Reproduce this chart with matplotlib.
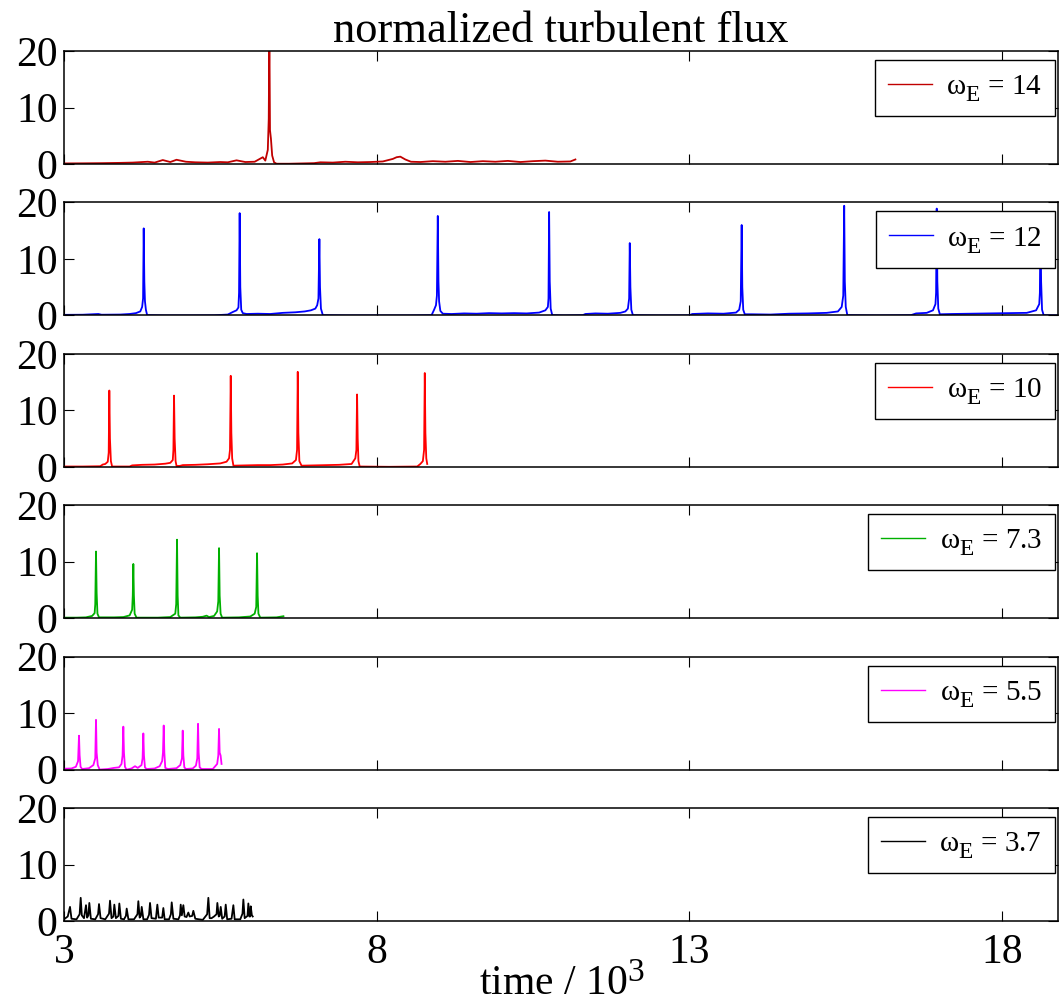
import numpy as np
import matplotlib
matplotlib.use("Agg")
import matplotlib.pyplot as plt

plt.rcParams['font.family'] = ['Liberation Serif', 'DejaVu Serif']
plt.rcParams['mathtext.fontset'] = 'custom'
plt.rcParams['mathtext.rm'] = 'Liberation Serif'
plt.rcParams['mathtext.it'] = 'Liberation Serif'
plt.rcParams['mathtext.bf'] = 'Liberation Serif:bold'
try:
    import matplotlib._mathtext as _mt
    _mt.SHRINK_FACTOR = 0.8
    _mt.FontConstantsBase.sub1 = 0.5
except Exception:
    pass

# ---------------- data (time / 10^3, normalized flux) ----------------
omega_labels = ['14', '12', '10', '7.3', '5.5', '3.7']
colors = ['#C00000', '#0000FF', '#FF0000', '#00B000', '#FF00FF', '#000000']

flux_w14 = [(3.00, 0.10), (3.30, 0.12), (3.60, 0.15), (3.90, 0.20), (4.10, 0.25), (4.34, 0.40),
            (4.45, 0.25), (4.58, 0.70), (4.70, 0.35), (4.80, 0.75), (4.95, 0.40), (5.10, 0.30),
            (5.30, 0.25), (5.50, 0.35), (5.62, 0.30), (5.76, 0.65), (5.90, 0.35), (6.05, 0.40),
            (6.18, 1.20), (6.22, 0.60), (6.26, 2.50), (6.275, 8.00), (6.285, 24.0), (6.295, 6.00),
            (6.31, 4.50), (6.33, 1.50), (6.36, 0.30), (6.40, 0.05), (6.60, 0.05), (6.80, 0.10),
            (7.00, 0.15), (7.10, 0.30), (7.30, 0.25), (7.50, 0.40), (7.70, 0.30), (7.90, 0.35),
            (8.10, 0.45), (8.26, 0.90), (8.32, 1.20), (8.38, 1.30), (8.46, 0.80), (8.55, 0.40),
            (8.70, 0.35), (8.90, 0.50), (9.10, 0.40), (9.30, 0.55), (9.50, 0.35), (9.70, 0.50),
            (9.90, 0.40), (10.10, 0.55), (10.30, 0.35), (10.50, 0.50), (10.70, 0.60), (10.90, 0.40),
            (11.10, 0.45), (11.18, 0.80)]

flux_w12 = [(3.00, 0.10), (3.30, 0.12), (3.55, 0.25), (3.60, 0.12), (3.90, 0.15), (4.05, 0.25),
            (4.15, 0.40), (4.22, 0.70), (4.25, 1.5), (4.265, 3.0), (4.275, 15.4), (4.285, 6.0),
            (4.295, 2.5), (4.31, 1.0), (4.33, 0.05), (4.60, 0.0), (5.00, 0.0), (5.40, 0.02),
            (5.62, 0.15), (5.70, 0.60), (5.76, 0.9), (5.79, 1.4), (5.80, 4.0), (5.81, 18.1),
            (5.82, 5.0), (5.835, 1.0), (5.86, 0.4), (5.92, 0.25), (6.10, 0.30), (6.30, 0.25),
            (6.50, 0.45), (6.70, 0.55), (6.85, 0.7), (6.95, 0.9), (7.02, 1.2), (7.05, 1.8),
            (7.07, 3.0), (7.085, 13.5), (7.095, 5.0), (7.11, 1.2), (7.14, 0.05), (7.50, 0.0),
            (8.00, 0.0), (8.50, 0.0), (8.88, 0.05), (8.92, 1.0), (8.95, 1.8), (8.965, 3.5),
            (8.979, 17.6), (8.99, 6.0), (9.00, 2.5), (9.02, 0.8), (9.06, 0.3), (9.20, 0.25),
            (9.40, 0.35), (9.60, 0.30), (9.80, 0.40), (10.00, 0.35), (10.20, 0.40), (10.40, 0.35),
            (10.60, 0.50), (10.70, 0.9), (10.74, 1.5), (10.75, 3.0), (10.76, 18.3), (10.77, 6.0),
            (10.785, 1.2), (10.81, 0.05), (11.00, 0.0), (11.30, 0.05), (11.34, 0.25), (11.50, 0.35),
            (11.70, 0.30), (11.90, 0.45), (11.98, 0.7), (12.02, 1.2), (12.04, 3.0), (12.05, 12.8),
            (12.06, 5.0), (12.075, 1.0), (12.10, 0.05), (12.50, 0.0), (13.00, 0.02), (13.05, 0.25),
            (13.30, 0.35), (13.55, 0.30), (13.75, 0.5), (13.80, 1.0), (13.825, 2.5), (13.84, 16.0),
            (13.85, 5.0), (13.865, 1.0), (13.89, 0.2), (14.00, 0.2), (14.30, 0.15), (14.60, 0.30),
            (14.90, 0.35), (15.20, 0.45), (15.38, 0.7), (15.44, 1.5), (15.465, 3.5), (15.48, 19.4),
            (15.49, 6.0), (15.505, 1.5), (15.53, 0.05), (16.00, 0.0), (16.55, 0.05), (16.63, 0.35),
            (16.80, 0.45), (16.90, 0.9), (16.94, 2.0), (16.95, 4.0), (16.96, 18.9), (16.97, 6.0),
            (16.985, 1.2), (17.01, 0.2), (17.20, 0.25), (17.50, 0.30), (17.80, 0.35), (18.10, 0.40),
            (18.40, 0.45), (18.55, 0.9), (18.60, 2.0), (18.61, 4.0), (18.62, 17.0), (18.63, 6.0),
            (18.645, 1.0), (18.67, 0.05), (18.92, 0.0)]

flux_w10 = [(3.00, 0.05), (3.30, 0.05), (3.58, 0.10), (3.62, 0.40), (3.66, 0.50), (3.70, 0.9),
            (3.715, 2.5), (3.725, 13.5), (3.735, 5.0), (3.75, 1.0), (3.77, 0.05), (4.05, 0.05),
            (4.09, 0.25), (4.25, 0.35), (4.45, 0.40), (4.62, 0.55), (4.70, 0.7), (4.74, 1.2),
            (4.75, 3.0), (4.76, 12.6), (4.77, 5.0), (4.785, 1.0), (4.80, 0.15), (4.85, 0.15),
            (4.90, 0.30), (5.10, 0.35), (5.30, 0.45), (5.50, 0.60), (5.60, 0.9), (5.64, 1.5),
            (5.655, 3.0), (5.667, 16.1), (5.677, 6.0), (5.69, 1.5), (5.71, 0.2), (5.90, 0.25),
            (6.10, 0.30), (6.30, 0.30), (6.50, 0.40), (6.65, 0.6), (6.71, 1.2), (6.728, 3.0),
            (6.739, 16.8), (6.749, 6.0), (6.765, 1.0), (6.80, 0.2), (7.00, 0.25), (7.20, 0.30),
            (7.40, 0.35), (7.60, 0.5), (7.66, 1.5), (7.677, 3.0), (7.688, 12.8), (7.698, 5.0),
            (7.71, 1.0), (7.73, 0.05), (8.20, 0.0), (8.65, 0.05), (8.70, 0.5), (8.74, 1.0),
            (8.76, 3.0), (8.771, 16.6), (8.781, 6.0), (8.795, 1.5), (8.81, 0.5)]

flux_w73 = [(3.00, 0.10), (3.20, 0.10), (3.35, 0.15), (3.45, 0.40), (3.49, 0.9), (3.50, 2.5),
            (3.512, 11.8), (3.522, 4.5), (3.535, 0.8), (3.56, 0.15), (3.80, 0.15), (3.95, 0.20),
            (4.05, 0.5), (4.09, 1.5), (4.10, 4.0), (4.109, 9.6), (4.118, 4.0), (4.13, 0.8),
            (4.16, 0.1), (4.50, 0.1), (4.70, 0.20), (4.78, 0.8), (4.795, 2.5), (4.808, 13.9),
            (4.818, 4.0), (4.83, 0.5), (4.86, 0.1), (5.10, 0.15), (5.22, 0.25), (5.28, 0.45),
            (5.32, 0.2), (5.40, 0.4), (5.45, 1.2), (5.468, 3.0), (5.48, 12.4), (5.49, 4.0),
            (5.505, 0.8), (5.53, 0.1), (5.80, 0.15), (5.98, 0.3), (6.05, 0.8), (6.075, 2.0),
            (6.088, 11.5), (6.098, 4.0), (6.11, 0.8), (6.14, 0.1), (6.40, 0.15), (6.51, 0.35)]

flux_w55 = [(3.00, 0.15), (3.12, 0.2), (3.19, 0.5), (3.225, 1.5), (3.24, 6.0), (3.25, 2.5),
            (3.265, 0.5), (3.29, 0.1), (3.40, 0.25), (3.47, 0.8), (3.50, 2.0), (3.512, 8.8),
            (3.522, 3.0), (3.54, 0.8), (3.57, 0.0), (3.70, 0.1), (3.80, 0.3), (3.88, 0.4),
            (3.92, 1.0), (3.937, 2.5), (3.949, 7.6), (3.959, 3.0), (3.975, 0.5), (4.00, 0.0),
            (4.08, 0.2), (4.136, 0.6), (4.18, 0.3), (4.24, 0.8), (4.257, 2.0), (4.269, 6.4),
            (4.279, 2.5), (4.295, 0.4), (4.32, 0.1), (4.45, 0.2), (4.53, 0.6), (4.57, 1.5),
            (4.583, 3.0), (4.595, 7.8), (4.605, 3.0), (4.62, 0.3), (4.66, 0.1), (4.80, 0.25),
            (4.86, 0.8), (4.887, 2.0), (4.899, 6.9), (4.909, 2.5), (4.925, 0.4), (4.95, 0.1),
            (5.06, 0.2), (5.11, 0.7), (5.132, 2.0), (5.144, 8.1), (5.154, 3.0), (5.17, 0.4),
            (5.20, 0.1), (5.38, 0.1), (5.45, 1.0), (5.468, 2.5), (5.48, 7.2), (5.49, 3.0),
            (5.505, 2.5), (5.52, 1.0)]

flux_w37 = [(3.00, 0.3), (3.06, 0.8), (3.096, 2.5), (3.12, 0.4), (3.20, 0.3), (3.25, 1.2),
            (3.267, 4.1), (3.285, 1.0), (3.32, 0.5), (3.352, 2.8), (3.37, 0.6), (3.39, 1.0),
            (3.405, 3.2), (3.43, 0.4), (3.50, 0.3), (3.545, 1.2), (3.56, 3.0), (3.585, 0.5),
            (3.66, 0.3), (3.72, 1.3), (3.736, 3.6), (3.76, 0.5), (3.79, 0.8), (3.805, 2.9),
            (3.83, 0.5), (3.87, 0.9), (3.885, 3.1), (3.91, 0.4), (3.96, 0.3), (3.99, 0.9),
            (4.003, 2.2), (4.03, 0.3), (4.12, 0.3), (4.175, 1.2), (4.189, 3.5), (4.21, 0.6),
            (4.23, 0.9), (4.243, 2.5), (4.27, 0.3), (4.33, 0.3), (4.36, 1.1), (4.376, 3.2),
            (4.40, 0.5), (4.47, 0.4), (4.493, 2.9), (4.515, 0.6), (4.57, 0.6), (4.589, 2.3),
            (4.61, 0.3), (4.68, 0.3), (4.71, 1.2), (4.723, 3.3), (4.75, 0.4), (4.83, 0.3),
            (4.855, 1.0), (4.867, 2.9), (4.885, 1.0), (4.909, 2.8), (4.93, 0.8), (4.96, 0.7),
            (4.989, 1.5), (5.01, 0.8), (5.05, 0.9), (5.069, 1.8), (5.10, 0.4), (5.22, 0.2),
            (5.29, 1.2), (5.309, 4.1), (5.33, 0.5), (5.36, 0.5), (5.40, 0.8), (5.44, 1.2),
            (5.453, 3.2), (5.475, 0.8), (5.49, 0.9), (5.507, 2.5), (5.53, 0.4), (5.57, 0.8),
            (5.587, 2.9), (5.61, 0.3), (5.68, 0.4), (5.709, 2.8), (5.73, 0.3), (5.82, 0.3),
            (5.855, 1.3), (5.869, 3.8), (5.89, 0.5), (5.935, 0.9), (5.949, 3.1), (5.965, 0.8),
            (5.977, 0.8), (5.987, 2.6), (6.005, 1.0), (6.019, 0.8)]

series = [flux_w14, flux_w12, flux_w10, flux_w73, flux_w55, flux_w37]
x_ticks = [3, 8, 13, 18]
y_ticks = [0, 10, 20]
x_range = (3.0, 18.9)
y_range = (0, 20)

# ---------------- figure ----------------
W, H = 1059, 1002
fig = plt.figure(figsize=(W / 100, H / 100), dpi=100)

left_px, right_px = 64, 1058
panel_h = 113
tops = [51 + i * 151.4 for i in range(6)]

axes = []
for i, (data, col, lab) in enumerate(zip(series, colors, omega_labels)):
    top = tops[i]
    ax = fig.add_axes([left_px / W, 1 - (top + panel_h) / H,
                       (right_px - left_px) / W, panel_h / H])
    arr = np.array(data)
    ax.plot(arr[:, 0], arr[:, 1], color=col, lw=1.3,
            label=r'$\omega_{\rm E}$ = ' + lab)
    ax.set_xlim(*x_range)
    ax.set_ylim(*y_range)
    ax.set_xticks(x_ticks)
    ax.set_yticks(y_ticks)
    ax.tick_params(direction='in', top=True, right=True, length=7, width=0.8,
                   labelsize=30, pad=4.5)
    ax.tick_params(axis='x', pad=9)
    for sp in ax.spines.values():
        sp.set_linewidth(1.1)
    if i < 5:
        ax.tick_params(labelbottom=False)
    leg = ax.legend(loc='upper right',
                    bbox_to_anchor=((1055 - left_px) / (right_px - left_px), 1 - 9 / panel_h),
                    borderaxespad=0, fontsize=21, frameon=True, fancybox=False,
                    framealpha=1, edgecolor='black', borderpad=0.45,
                    handlelength=1.5, handletextpad=0.5)
    leg.get_frame().set_linewidth(1.0)
    for ln in leg.get_lines():
        ln.set_linewidth(1.0)
    axes.append(ax)

axes[0].set_title('normalized turbulent flux', fontsize=32, pad=6.5)
fig.text(562 / W, 1 - 995 / H, r'time / 10$^3$', fontsize=30,
         ha='center', va='baseline')

fig.savefig('out.png', dpi=100)
